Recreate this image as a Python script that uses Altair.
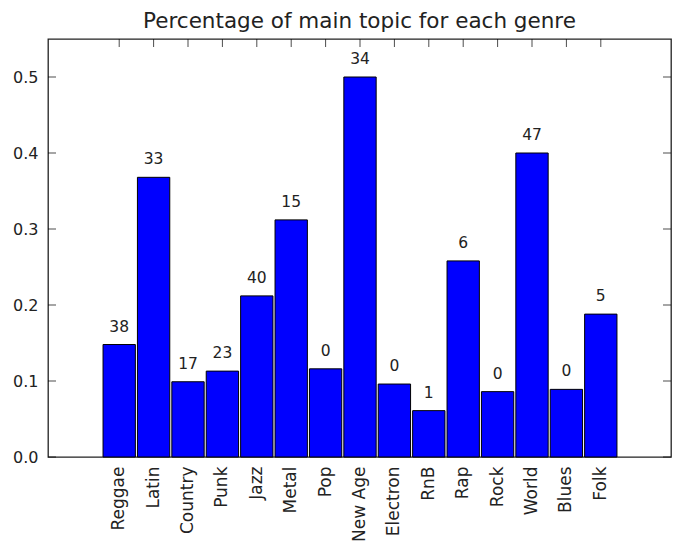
import altair as alt
import pandas as pd

genres = ["Reggae", "Latin", "Country", "Punk", "Jazz", "Metal", "Pop", "New Age",
          "Electron", "RnB", "Rap", "Rock", "World", "Blues", "Folk"]
shares = [0.148, 0.368, 0.099, 0.113, 0.212, 0.312, 0.116, 0.500,
          0.096, 0.061, 0.258, 0.086, 0.400, 0.089, 0.188]
counts = [38, 33, 17, 23, 40, 15, 0, 34, 0, 1, 6, 0, 47, 0, 5]
ytick_values = [0.0, 0.1, 0.2, 0.3, 0.4, 0.5]

df = pd.DataFrame({"genre": genres, "share": shares, "count": counts})
ticks_df = pd.DataFrame({"v": ytick_values})

W, H = 623, 418
FONT = "DejaVu Sans"

xscale = alt.Scale(domain=genres, paddingInner=0.06, paddingOuter=0.03,
                   range=[54, 570])
yscale = alt.Scale(domain=[0, 0.55], nice=False, zero=True)

x = alt.X("genre:N", scale=xscale, sort=genres, title=None,
          axis=alt.Axis(labelAngle=-90, labelFont=FONT, labelFontSize=17,
                        labelColor="#222", tickSize=0, domain=False,
                        labelPadding=9))
y = alt.Y("share:Q", scale=yscale, title=None,
          axis=alt.Axis(values=ytick_values, format=".1f", labelFont=FONT,
                        labelFontSize=16, labelColor="#222", tickSize=0,
                        domain=False, grid=False, labelPadding=10))

bars = alt.Chart(df).mark_bar(color="#0000FF", stroke="black", strokeWidth=1).encode(
    x=x, y=y)

labels = alt.Chart(df).mark_text(font=FONT, fontSize=15.5, color="#222",
                                 baseline="middle", dy=-18).encode(
    x=alt.X("genre:N", scale=xscale, sort=genres),
    y=alt.Y("share:Q", scale=yscale),
    text="count:Q")

top_ticks = alt.Chart(df).mark_tick(color="black", size=8, thickness=1,
                                    orient="vertical").encode(
    x=alt.X("genre:N", scale=xscale, sort=genres),
    y=alt.value(4))

left_ticks = alt.Chart(ticks_df).mark_tick(color="black", size=8, thickness=1,
                                           orient="horizontal").encode(
    y=alt.Y("v:Q", scale=yscale),
    x=alt.value(4))

right_ticks = alt.Chart(ticks_df).mark_tick(color="black", size=8, thickness=1,
                                            orient="horizontal").encode(
    y=alt.Y("v:Q", scale=yscale),
    x=alt.value(W - 4))

chart = alt.layer(bars, labels, top_ticks, left_ticks, right_ticks).properties(
    width=W, height=H,
    title=alt.Title("Percentage of main topic for each genre", font=FONT,
                    fontSize=21.5, fontWeight="normal", color="#222",
                    anchor="middle", offset=7),
    autosize=alt.AutoSizeParams(type="none"),
    padding={"left": 48, "top": 39, "right": 9, "bottom": 99},
    background="white",
).configure_view(stroke="#222", strokeWidth=1.3)

chart.save("out.html", embed_options={"renderer": "svg", "actions": False})
